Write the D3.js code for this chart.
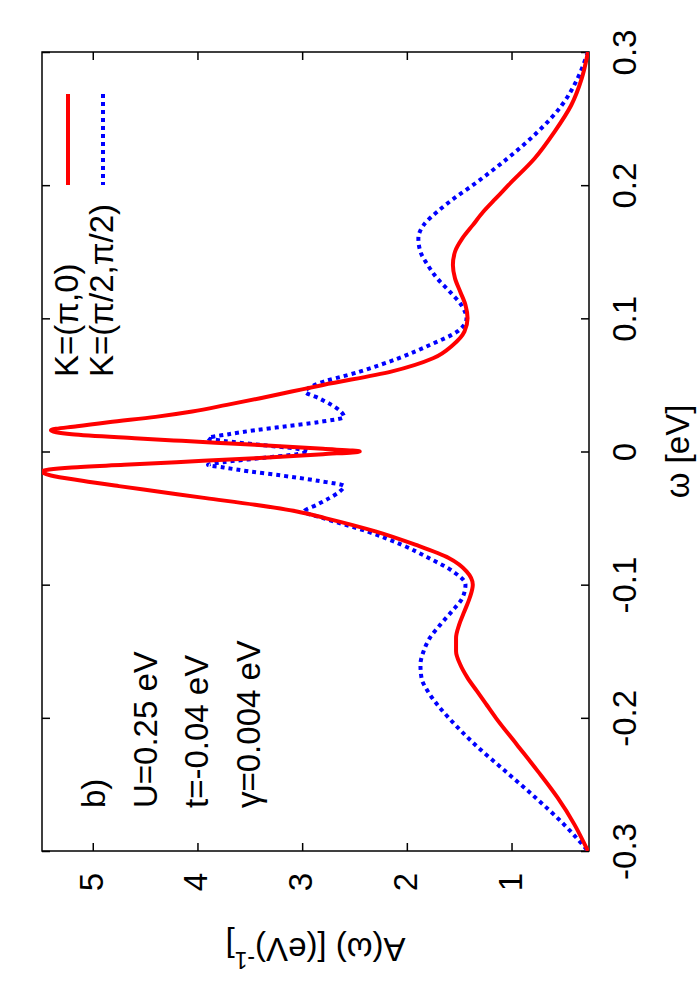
<!DOCTYPE html>
<html>
<head>
<meta charset="utf-8">
<title>A(omega) spectral function</title>
<script src="https://d3js.org/d3.v7.min.js"></script>
<style>
    body { margin: 0; background: #fff; }
    text { font-family: "Liberation Sans", Arial, sans-serif; }
</style>
</head>
<body>
<svg width="700" height="1000"></svg>
<script>
    ///////////////////////////////DATA/////////////////////////////////////////////
    // omega in eV, spectral weight A in 1/eV
    var omega = [-0.30, -0.28, -0.26, -0.24, -0.22, -0.20, -0.19, -0.18, -0.17, -0.16,
                 -0.15, -0.14, -0.13, -0.12, -0.11, -0.10, -0.09, -0.08, -0.07, -0.06,
                 -0.05, -0.045, -0.04, -0.035, -0.03, -0.026, -0.022, -0.018, -0.015, -0.012,
                 -0.01, -0.008, -0.005, -0.002, 0, 0.002, 0.005, 0.008, 0.01, 0.013,
                 0.016, 0.019, 0.022, 0.026, 0.03, 0.035, 0.04, 0.045, 0.05, 0.06,
                 0.07, 0.08, 0.09, 0.10, 0.11, 0.12, 0.13, 0.14, 0.15, 0.16,
                 0.17, 0.18, 0.19, 0.20, 0.22, 0.24, 0.26, 0.28, 0.30];
    // K=(pi,0)
    var aRed = [0.27, 0.40, 0.56, 0.75, 0.95, 1.15, 1.24, 1.33, 1.42, 1.49,
                1.53, 1.53, 1.50, 1.45, 1.40, 1.37, 1.43, 1.60, 1.92, 2.30,
                2.78, 3.05, 3.45, 3.92, 4.38, 4.75, 5.10, 5.40, 5.49, 5.20,
                4.70, 4.20, 3.45, 2.80, 2.45, 2.80, 3.45, 4.15, 4.60, 5.20,
                5.40, 5.15, 4.85, 4.40, 4.05, 3.72, 3.40, 3.10, 2.80, 2.15,
                1.75, 1.56, 1.45, 1.42, 1.44, 1.49, 1.54, 1.56, 1.54, 1.47,
                1.37, 1.27, 1.15, 1.03, 0.78, 0.59, 0.43, 0.33, 0.27];
    // K=(pi/2,pi/2)
    var aBlue = [0.27, 0.50, 0.77, 1.06, 1.35, 1.60, 1.71, 1.80, 1.86, 1.87,
                 1.84, 1.78, 1.68, 1.57, 1.47, 1.44, 1.56, 1.79, 2.05, 2.38,
                 2.80, 2.98, 2.86, 2.74, 2.64, 2.60, 2.85, 3.20, 3.50, 3.75,
                 3.90, 3.75, 3.40, 3.05, 2.94, 3.05, 3.40, 3.75, 3.90, 3.70,
                 3.45, 3.15, 2.85, 2.60, 2.63, 2.72, 2.84, 2.97, 2.88, 2.45,
                 2.08, 1.78, 1.52, 1.43, 1.48, 1.59, 1.71, 1.80, 1.87, 1.89,
                 1.84, 1.71, 1.55, 1.37, 1.04, 0.75, 0.52, 0.37, 0.27];

    var seriesNames = ["K=(\u03c0,0)", "K=(\u03c0/2,\u03c0/2)"];
    var omegaTicks = [-0.3, -0.2, -0.1, 0, 0.1, 0.2, 0.3];
    var omegaTickLabels = ["-0.3", "-0.2", "-0.1", "0", "0.1", "0.2", "0.3"];
    var aTicks = [1, 2, 3, 4, 5];
    var aTickLabels = ["1", "2", "3", "4", "5"];
    var notes = ["b)", "U=0.25 eV", "t=-0.04 eV", "\u03b3=0.004 eV"];

    /////////////////////////////LAYOUT/////////////////////////////////////////////
    // the gnuplot figure is turned by 90 degrees: omega runs upwards, A grows to the left
    var frameL = 42, frameR = 589, frameT = 52, frameB = 851;
    var fontSize = 33;

    var svg = d3.select("svg");

    var xScale = d3.scaleLinear()      // A(omega)
        .domain([0.26, 5.485])
        .range([frameR, frameL]);
    var yScale = d3.scaleLinear()      // omega
        .domain([-0.3, 0.3])
        .range([frameB, frameT]);

    svg.append("clipPath").attr("id", "frame")
        .append("rect")
        .attr("x", frameL).attr("y", frameT)
        .attr("width", frameR - frameL).attr("height", frameB - frameT);

    /////////////////////////////AXES///////////////////////////////////////////////
    // omega axis on the right, labels read bottom to top
    var omegaAxis = d3.axisRight(yScale)
        .tickValues(omegaTicks)
        .tickSizeInner(-8).tickSizeOuter(0)
        .tickFormat((d, i) => omegaTickLabels[i]);
    var gOmega = svg.append("g")
        .attr("transform", "translate(" + frameR + ",0)")
        .call(omegaAxis);
    gOmega.selectAll("text")
        .attr("x", null).attr("dy", null)
        .attr("transform", "translate(35,0) rotate(-90)")
        .attr("text-anchor", "middle")
        .attr("dominant-baseline", "central")
        .style("font-size", fontSize + "px")
        .style("fill", "#000");

    // mirror ticks on the left edge
    svg.append("g")
        .attr("transform", "translate(" + frameL + ",0)")
        .call(d3.axisLeft(yScale).tickValues(omegaTicks).tickSizeInner(-8).tickSizeOuter(0).tickFormat(""));

    // A axis along the bottom
    var aAxis = d3.axisBottom(xScale)
        .tickValues(aTicks)
        .tickSizeInner(-8).tickSizeOuter(0)
        .tickFormat((d, i) => aTickLabels[i]);
    var gA = svg.append("g")
        .attr("transform", "translate(0," + frameB + ")")
        .call(aAxis);
    gA.selectAll("text")
        .attr("y", null).attr("dy", null)
        .attr("transform", "translate(-2,22) rotate(-90)")
        .attr("text-anchor", "end")
        .attr("dominant-baseline", "central")
        .style("font-size", fontSize + "px")
        .style("fill", "#000");

    svg.append("g")
        .attr("transform", "translate(0," + frameT + ")")
        .call(d3.axisTop(xScale).tickValues(aTicks).tickSizeInner(-8).tickSizeOuter(0).tickFormat(""));

    svg.selectAll(".domain").remove();
    svg.selectAll(".tick line").attr("stroke", "#000").attr("stroke-width", 1.5);

    svg.append("rect")
        .attr("x", frameL).attr("y", frameT)
        .attr("width", frameR - frameL).attr("height", frameB - frameT)
        .attr("fill", "none").attr("stroke", "#000").attr("stroke-width", 1.5);

    // axis titles
    svg.append("text")
        .attr("transform", "translate(677," + (frameT + frameB) / 2 + ") rotate(-90)")
        .attr("text-anchor", "middle")
        .attr("dominant-baseline", "central")
        .style("font-size", fontSize + "px")
        .text("\u03c9 [eV]");

    var aTitle = svg.append("text")
        .attr("transform", "translate(" + (frameL + frameR) / 2 + ",950) rotate(180)")
        .attr("text-anchor", "middle")
        .attr("dominant-baseline", "central")
        .style("font-size", fontSize + "px");
    aTitle.append("tspan").text("A(\u03c9) [(eV)");
    aTitle.append("tspan").attr("dy", "-0.45em").style("font-size", "23px").text("-1");
    aTitle.append("tspan").attr("dy", "0.45em").text("]");

    /////////////////////////////CURVES/////////////////////////////////////////////
    var points = (vals) => omega.map((w, i) => [vals[i], w]).reverse();

    var line = d3.line()
        .x(d => xScale(d[0]))
        .y(d => yScale(d[1]))
        .curve(d3.curveMonotoneY);

    var curves = svg.append("g").attr("clip-path", "url(#frame)");
    curves.append("path")
        .attr("d", line(points(aBlue)))
        .attr("fill", "none").attr("stroke", "#0000ff")
        .attr("stroke-width", 4).attr("stroke-dasharray", "4,4");
    curves.append("path")
        .attr("d", line(points(aRed)))
        .attr("fill", "none").attr("stroke", "#ff0000")
        .attr("stroke-width", 4);

    /////////////////////////////KEY AND NOTES//////////////////////////////////////
    var keyX = [68, 103];
    var keyStyle = [{c: "#ff0000", dash: null}, {c: "#0000ff", dash: "4,4"}];
    seriesNames.forEach((name, i) => {
        svg.append("line")
            .attr("x1", keyX[i]).attr("x2", keyX[i])
            .attr("y1", 94).attr("y2", 185)
            .attr("stroke", keyStyle[i].c).attr("stroke-width", 4)
            .attr("stroke-dasharray", keyStyle[i].dash);
        svg.append("text")
            .attr("transform", "translate(" + (keyX[i] - 2) + ",377) rotate(-90)")
            .attr("dominant-baseline", "central")
            .style("font-size", fontSize + "px")
            .text(name);
    });

    var noteX = [105, 157, 208, 260];
    notes.forEach((t, i) => {
        svg.append("text")
            .attr("transform", "translate(" + noteX[i] + ",808) rotate(-90)")
            .style("font-size", fontSize + "px")
            .text(t);
    });
</script>
</body>
</html>
